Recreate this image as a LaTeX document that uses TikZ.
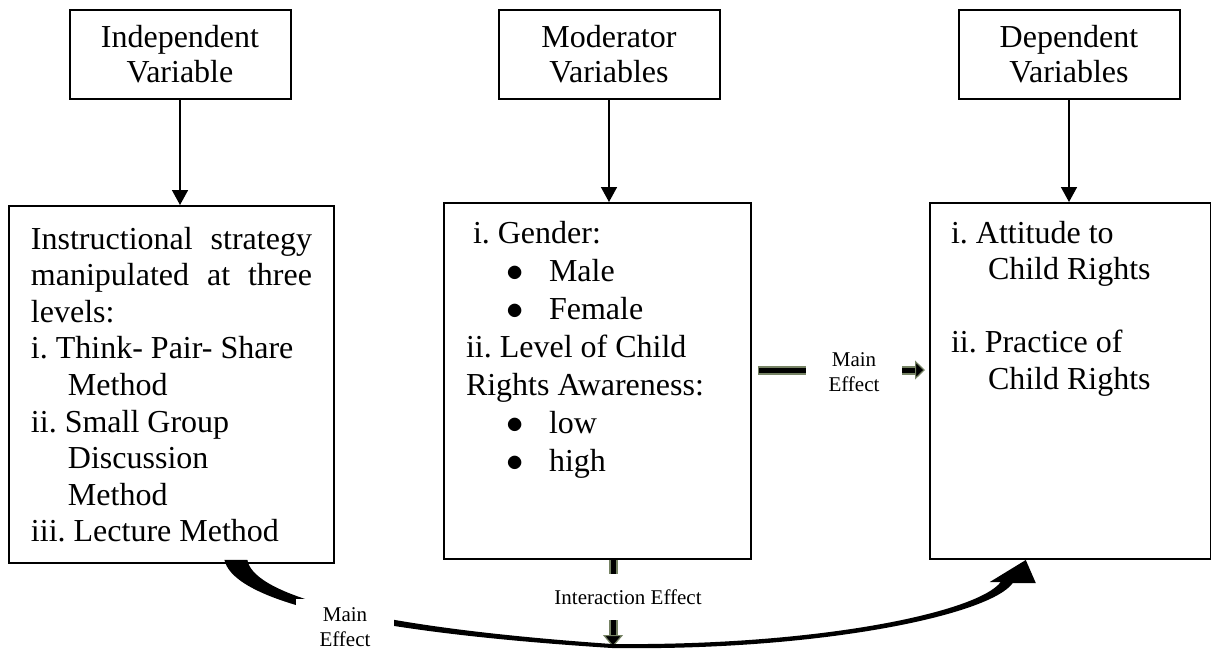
\documentclass[tikz,border=0pt]{standalone}
\usepackage{fontspec}
\setmainfont{Liberation Serif}
\usetikzlibrary{calc,arrows.meta}
\frenchspacing

\definecolor{effgreen}{RGB}{118,131,100}
\newcommand{\bodyfont}{\fontsize{16}{18.3}\selectfont}
\newcommand{\bulletitem}[1]{\hspace*{20pt}\makebox[21.5pt][l]{$\bullet$}#1}

\tikzset{
  topbox/.style={draw, line width=1pt, minimum width=110.5pt, minimum height=44.5pt,
    align=center, font=\fontsize{16}{17.5}\selectfont},
  mainbox/.style={draw, line width=1pt, anchor=north west, inner xsep=11pt},
  down/.style={line width=0.8pt, -{Triangle[width=8pt,length=7.5pt]}},
  effect/.style={fill=white, align=center, font=\fontsize{10.5}{12.5}\selectfont},
}

\begin{document}
\begin{tikzpicture}[x=0.5pt,y=-0.5pt]
  \useasboundingbox (0,0) rectangle (1211,649);

  %% Heading boxes
  \node[topbox] (indeptop) at (180,54.5)  {Independent\\Variable};
  \node[topbox] (modtop)   at (609,54.5)  {Moderator\\Variables};
  \node[topbox] (deptop)   at (1069,54.5) {Dependent\\Variables};

  %% Boxes listing the variables
  \node[mainbox, inner ysep=8.7pt] (indep) at (8,205) {\parbox[t][161pt][t]{140.5pt}{\bodyfont\frenchspacing\strut
    Instructional strategy manipulated at three levels:\par
    i. Think- Pair- Share\\
    \hspace*{18.5pt}Method\\
    ii. Small Group\\
    \hspace*{18.5pt}Discussion\\
    \hspace*{18.5pt}Method\\
    iii. Lecture Method}};

  \node[mainbox, inner ysep=6.7pt] (mod) at (443,202) {\parbox[t][164.6pt][t]{131.5pt}{\fontsize{16}{19}\selectfont\frenchspacing\strut
    \hspace*{3.5pt}i. Gender:\\
    \bulletitem{Male}\\
    \bulletitem{Female}\\
    ii. Level of Child\\
    Rights Awareness:\\
    \bulletitem{low}\\
    \bulletitem{high}}};

  \node[mainbox, inner xsep=10.5pt, inner ysep=7.2pt] (dep) at (929,202) {\parbox[t][163.6pt][t]{119.5pt}{\bodyfont\frenchspacing\strut
    i. Attitude to\\
    \hspace*{18.5pt}Child Rights\\
    \mbox{}\\
    ii. Practice of\\
    \hspace*{18.5pt}Child Rights}};

  %% Heading arrows
  \foreach \t/\b in {indeptop/indep, modtop/mod, deptop/dep}
    \draw[down] (\t.south) -- (\t.south |- \b.north);

  %% Main effect: moderator -> dependent
  \draw[effgreen, line width=4.5pt, shorten <=3pt, shorten >=2pt,
        -{Triangle[width=9.5pt,length=5pt,line width=0.6pt,fill=black]}]
    ([yshift=5.5pt]mod.east) -- ([yshift=5.5pt]mod.east -| dep.west);
  \draw[line width=2.5pt, shorten <=3.5pt, shorten >=7pt]
    ([yshift=5.5pt]mod.east) -- ([yshift=5.5pt]mod.east -| dep.west)
    node[effect, midway, xshift=6.75pt, yshift=-1.25pt, inner xsep=11.5pt] (me2) {Main\\Effect};

  %% Interaction effect
  \coordinate (ie) at ([xshift=7.75pt,yshift=-43.5pt]mod.south);
  \draw[effgreen, line width=4.5pt,
        -{Triangle[width=10pt,length=6pt,line width=0.6pt,fill=black]}]
    ([xshift=7.75pt]mod.south) -- (ie);
  \draw[line width=2.5pt, shorten >=6pt]
    ([xshift=7.75pt]mod.south) -- (ie)
    node[effect, pos=0.425, xshift=7.5pt, minimum height=23pt] (iel) {Interaction Effect};

  %% Curved main effect: independent -> dependent
  \coordinate (ms) at ($(indep.south west)!0.7!(indep.south east)$);
  \coordinate (mt) at ($(dep.south west)!0.342!(dep.south east)$);
  \fill ($(ms)+(-12.5,-4)$) .. controls (232,595) and (330,630) .. (612,648)
    .. controls (820,651) and (990,615) .. ($(mt)+(-13,23)$)
    -- ($(mt)+(10,23)$) -- (mt) -- ($(mt)+(-36,22)$) -- ($(mt)+(-25,22)$)
    .. controls (978,612) and (820,646) .. (612,644)
    .. controls (340,625) and (252,590) .. ($(ms)+(10.5,-4)$) -- cycle;
  \node[effect, inner xsep=11.75pt, inner ysep=4pt] (me1) at (345,627) {Main\\Effect};

\end{tikzpicture}
\end{document}
